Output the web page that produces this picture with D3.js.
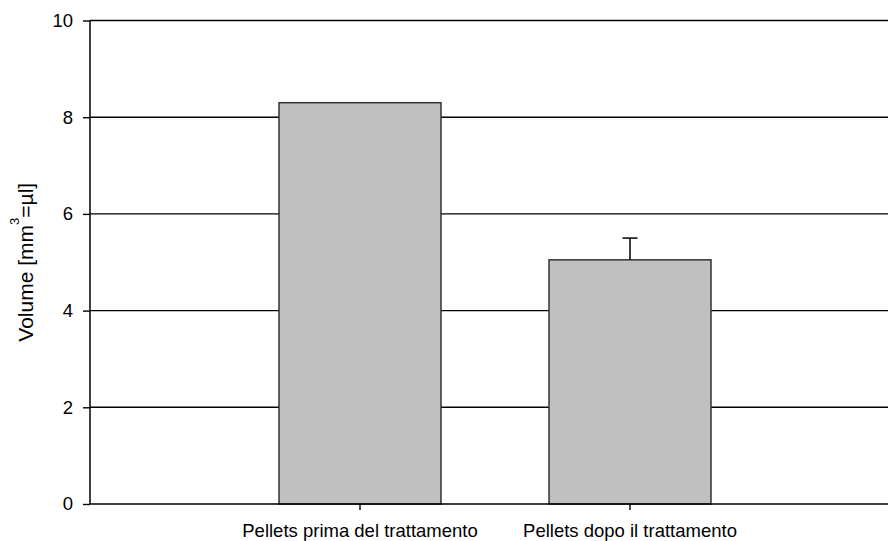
<!DOCTYPE html>
<html>
<head>
<meta charset="utf-8">
<script src="https://cdn.jsdelivr.net/npm/d3@7"></script>
<style>
  html, body { margin: 0; padding: 0; background: #fff; }
  svg { display: block; font-family: "Liberation Sans", Arial, sans-serif; }
</style>
</head>
<body>
<svg id="chart" width="888" height="541"></svg>
<script>
// Pellet volumes before and after treatment
const categories = ["Pellets prima del trattamento", "Pellets dopo il trattamento"];
const values = [8.3, 5.05];
const errorsUp = [null, 0.45];
const yTicks = [0, 2, 4, 6, 8, 10];

const svg = d3.select("#chart");
const plotLeft = 90, plotRight = 900, plotTop = 20.5, plotBottom = 504;
const fontSize = 18.5;

const x = d3.scaleBand()
  .domain(categories)
  .range([plotLeft, plotRight])
  .paddingInner(0.4)
  .paddingOuter(0.7);

const y = d3.scaleLinear().domain([0, 10]).range([plotBottom, plotTop]);

// horizontal grid lines
svg.append("g")
  .selectAll("line")
  .data(yTicks.filter(d => d > 0))
  .join("line")
  .attr("x1", plotLeft).attr("x2", 888)
  .attr("y1", d => y(d)).attr("y2", d => y(d))
  .attr("stroke", "#000").attr("stroke-width", 1.4);

// bars
svg.append("g")
  .selectAll("rect")
  .data(categories)
  .join("rect")
  .attr("x", d => x(d))
  .attr("width", x.bandwidth())
  .attr("y", (d, i) => y(values[i]))
  .attr("height", (d, i) => y(0) - y(values[i]))
  .attr("fill", "#c0c0c0")
  .attr("stroke", "#333")
  .attr("stroke-width", 1.5);

// upper error bars
const err = svg.append("g").attr("stroke", "#000").attr("stroke-width", 1.5);
categories.forEach((c, i) => {
  if (errorsUp[i] == null) return;
  const cx = x(c) + x.bandwidth() / 2;
  const yt = y(values[i] + errorsUp[i]);
  err.append("line").attr("x1", cx).attr("x2", cx)
    .attr("y1", y(values[i])).attr("y2", yt);
  err.append("line").attr("x1", cx - 7.5).attr("x2", cx + 7.5)
    .attr("y1", yt).attr("y2", yt);
});

// y axis
const yAxis = svg.append("g")
  .attr("transform", `translate(${plotLeft},0)`)
  .call(d3.axisLeft(y).tickValues(yTicks).tickSize(7).tickPadding(10).tickFormat(d3.format("d")));
yAxis.select(".domain").remove();
yAxis.selectAll(".tick line").attr("stroke", "#000").attr("stroke-width", 1.4);
yAxis.selectAll(".tick text").attr("font-size", fontSize).attr("fill", "#000")
  .attr("font-family", "Liberation Sans, Arial, sans-serif");
svg.append("line")
  .attr("x1", plotLeft).attr("x2", plotLeft)
  .attr("y1", plotTop).attr("y2", plotBottom)
  .attr("stroke", "#000").attr("stroke-width", 1.5);

// x axis
const xAxis = svg.append("g")
  .attr("transform", `translate(0,${plotBottom})`)
  .call(d3.axisBottom(x).tickSize(6).tickPadding(14));
xAxis.select(".domain").remove();
xAxis.selectAll(".tick line").attr("stroke", "#000").attr("stroke-width", 1.4);
xAxis.selectAll(".tick text").attr("font-size", fontSize).attr("fill", "#000")
  .attr("font-family", "Liberation Sans, Arial, sans-serif");
svg.append("line")
  .attr("x1", plotLeft).attr("x2", 888)
  .attr("y1", plotBottom).attr("y2", plotBottom)
  .attr("stroke", "#000").attr("stroke-width", 1.5);

// y axis title with superscript
const title = svg.append("text")
  .attr("transform", `translate(32.5,${(plotTop + plotBottom) / 2}) rotate(-90)`)
  .attr("text-anchor", "middle")
  .attr("font-size", 21)
  .attr("fill", "#000");
title.append("tspan").text("Volume [mm");
title.append("tspan").attr("font-size", 13).attr("dy", -14).text("3");
title.append("tspan").attr("dy", 14).text("=µl]");
</script>
</body>
</html>
